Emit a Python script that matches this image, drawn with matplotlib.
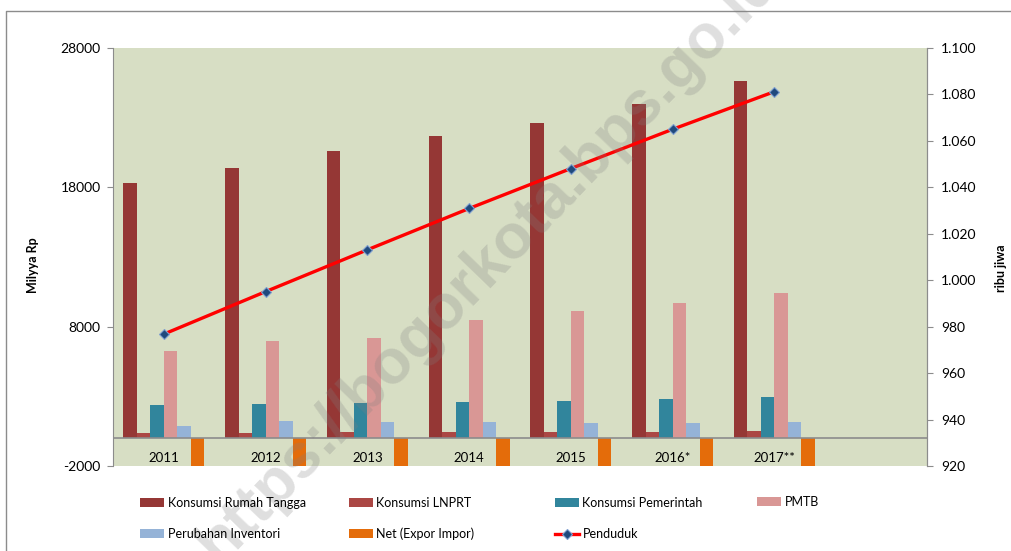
import matplotlib
matplotlib.use('Agg')
import matplotlib.pyplot as plt
from matplotlib.lines import Line2D
import numpy as np

# data (Milyar Rp / ribu jiwa)
years = ['2011', '2012', '2013', '2014', '2015', '2016*', '2017**']
rumah_tangga = [18330, 19360, 20600, 21680, 22640, 23980, 25640]
lnprt = [340, 360, 410, 420, 430, 460, 480]
pemerintah = [2380, 2450, 2500, 2570, 2690, 2790, 2930]
pmtb = [6230, 6970, 7180, 8460, 9150, 9680, 10400]
inventori = [890, 1250, 1130, 1130, 1060, 1100, 1130]
net_ekspor = [-3200, -3400, -3500, -3700, -3900, -4100, -4300]
penduduk = [976.8, 995.1, 1013.1, 1030.9, 1048.1, 1065.0, 1081.2]

series = [
    ('Konsumsi Rumah Tangga', rumah_tangga, '#953735'),
    ('Konsumsi LNPRT', lnprt, '#AB4744'),
    ('Konsumsi Pemerintah', pemerintah, '#31859C'),
    ('PMTB', pmtb, '#D99795'),
    ('Perubahan Inventori', inventori, '#95B3D7'),
    ('Net (Expor Impor)', net_ekspor, '#E46C0A'),
]

plt.rcParams['font.family'] = ['Lato', 'DejaVu Sans']
plt.rcParams['axes.unicode_minus'] = False

fig = plt.figure(figsize=(10.11, 5.51), dpi=100)
ax = fig.add_axes([113/1011, 85/551, 814/1011, 418/551])
ax.set_facecolor('#D7DEC4')

x = np.arange(len(years))
w = 0.1327
handles = {}
for k, (name, vals, col) in enumerate(series):
    b = ax.bar(x + (k - 2.5) * w, vals, width=w, color=col, zorder=2)
    handles[name] = b

ax.axhline(0, color='#8C8C8C', lw=1.2, zorder=3)
ax.set_xlim(-0.5, 7.5)
ax.set_ylim(-2000, 28000)
ax.set_yticks([-2000, 8000, 18000, 28000])
ax.set_xticks([])
for i, yr in enumerate(years):
    ax.text(i, -1450, yr, ha='center', va='center', fontsize=9.5, zorder=4)

for s in ['top', 'bottom']:
    ax.spines[s].set_visible(False)
ax.spines['left'].set_color('#8C8C8C')
ax.spines['right'].set_color('#8C8C8C')
ax.tick_params(axis='y', length=4, color='#8C8C8C', labelsize=10, pad=5)

ax2 = ax.twinx()
ax2.set_ylim(920, 1100)
ax2.set_yticks(range(920, 1101, 20))
ax2.set_yticklabels([f'{v:,}'.replace(',', '.') if v >= 1000 else str(v) for v in range(920, 1101, 20)])
for s in ['top', 'bottom', 'left']:
    ax2.spines[s].set_visible(False)
ax2.spines['right'].set_color('#8C8C8C')
ax2.tick_params(axis='y', length=4, color='#8C8C8C', labelsize=10, pad=6)
line, = ax2.plot(x, penduduk, color='#FF0000', lw=2.4, marker='D', markersize=5,
                 markerfacecolor='#1F497D', markeredgecolor='#7F9FD0', markeredgewidth=0.8, zorder=5)

# axis titles
fig.text(33/1011, 1 - 265/551, 'Milyya Rp', rotation=90, fontsize=9, fontweight='bold',
         ha='center', va='center')
fig.text(1001/1011, 1 - 268/551, 'ribu jiwa', rotation=90, fontsize=9, fontweight='bold',
         ha='center', va='center')

# legend: four columns of equal spacing as in the original
cols = [
    (140, ['Konsumsi Rumah Tangga', 'Perubahan Inventori']),
    (349, ['Konsumsi LNPRT', 'Net (Expor Impor)']),
    (555, ['Konsumsi Pemerintah', 'Penduduk']),
    (757, ['PMTB']),
]
for xpix, names in cols:
    hs = [line if n == 'Penduduk' else handles[n] for n in names]
    ycen = 518.5 if len(names) == 2 else 502
    fig.legend(hs, names, loc='center left', bbox_to_anchor=(xpix/1011, 1 - ycen/551),
               frameon=False, borderpad=0, borderaxespad=0, handlelength=1.9, handleheight=0.7,
               handletextpad=0.3, labelspacing=1.5, fontsize=9)

# outer chart border
fig.add_artist(Line2D([6/1011, 6/1011, 1], [0, 1 - 11/551, 1 - 11/551], transform=fig.transFigure,
                      color='#8C8C8C', lw=1))

# watermark
fig.text(489/1011, 1 - 262/551, 'https://bogorkota.bps.go.id', fontsize=45, fontweight='bold',
         family='Liberation Sans', color='#808080', alpha=0.25, rotation=46,
         ha='center', va='center', rotation_mode='anchor')

fig.savefig('out.png', dpi=100)
